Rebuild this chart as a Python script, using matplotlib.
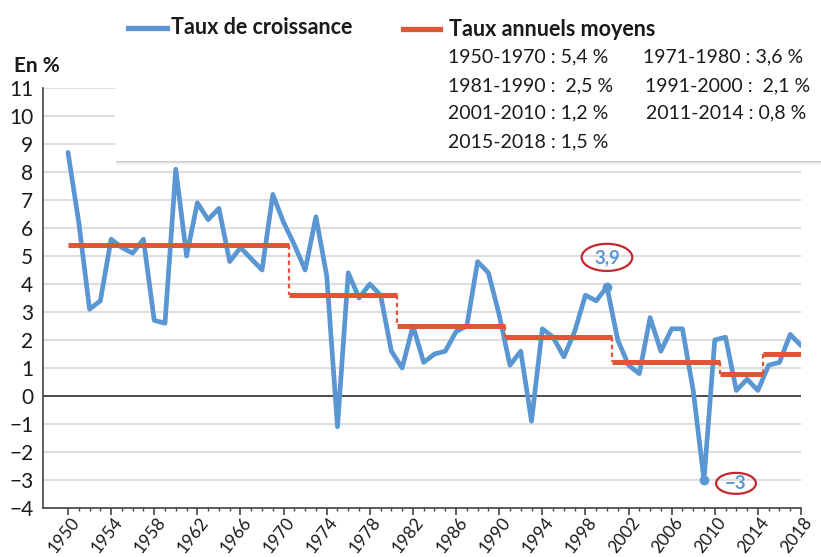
import matplotlib
matplotlib.use('Agg')
import matplotlib.pyplot as plt
from matplotlib.patches import Ellipse, Rectangle
from matplotlib.lines import Line2D
from matplotlib.transforms import ScaledTranslation

# ---------------- data ----------------
years = list(range(1950, 2019))
growth = [8.7, 6.2, 3.1, 3.4, 5.6, 5.3, 5.1, 5.6, 2.7, 2.6,
          8.1, 5.0, 6.9, 6.3, 6.7, 4.8, 5.3, 4.9, 4.5, 7.2,
          6.2, 5.4, 4.5, 6.4, 4.3, -1.1, 4.4, 3.5, 4.0, 3.6,
          1.6, 1.0, 2.5, 1.2, 1.5, 1.6, 2.3, 2.5, 4.8, 4.4,
          2.9, 1.1, 1.6, -0.9, 2.4, 2.1, 1.4, 2.3, 3.6, 3.4,
          3.9, 2.0, 1.1, 0.8, 2.8, 1.6, 2.4, 2.4, 0.2, -3.0,
          2.0, 2.1, 0.2, 0.6, 0.2, 1.1, 1.2, 2.2, 1.8]

avg_starts = [1950, 1971, 1981, 1991, 2001, 2011, 2015]
avg_ends = [1970, 1980, 1990, 2000, 2010, 2014, 2018]
avg_values = [5.4, 3.6, 2.5, 2.1, 1.2, 0.8, 1.5]

period_labels = ["1950-1970 : 5,4 %", "1971-1980 : 3,6 %",
                 "1981-1990 :  2,5 %", "1991-2000 :  2,1 %",
                 "2001-2010 : 1,2 %", "2011-2014 : 0,8 %",
                 "2015-2018 : 1,5 %"]

highlight_years = [2000, 2009]
highlight_labels = ["3,9", "\u22123"]

xtick_labels = [str(y) for y in range(1950, 2019, 4)]
ytick_values = list(range(-4, 12))

# ---------------- style ----------------
BLUE = '#5a96d2'
RED = '#df5537'
DARKRED = '#c3272f'
FONT = ['Lato', 'DejaVu Sans']
plt.rcParams['font.family'] = FONT

W, H = 821, 557
fig = plt.figure(figsize=(W / 100, H / 100), dpi=100)
fig.patch.set_facecolor('white')


def fx(px):
    return px / W


def fy(py):
    return 1 - py / H


ax = fig.add_axes([fx(43), fy(508), fx(801) - fx(43), fy(88) - fy(508)])
ax.set_xlim(1950 - 25 / 10.78, 2018)
ax.set_ylim(-4, 11)

# grid
for v in ytick_values:
    if v == 0:
        ax.axhline(v, color='#1a1a1a', lw=1.1, zorder=2)
    else:
        ax.axhline(v, color='#dedede', lw=1.5, zorder=1)

# growth line
ax.plot(years, growth, color=BLUE, lw=3.4, solid_joinstyle='round',
        solid_capstyle='round', zorder=3)

# averages
n = len(avg_values)
for i in range(n):
    x0 = max(avg_starts[i] - 0.5, years[0])
    x1 = min(avg_ends[i] + 0.5, years[-1])
    ax.plot([x0, x1], [avg_values[i], avg_values[i]], color=RED, lw=3.6,
            solid_capstyle='butt', zorder=4)
    if i > 0:
        xb = avg_starts[i] - 0.5
        ax.plot([xb, xb], [avg_values[i - 1], avg_values[i]], color=RED,
                lw=1.6, ls=(0, (2, 1.5)), zorder=4)

# highlights
for yr, lab in zip(highlight_years, highlight_labels):
    val = growth[years.index(yr)]
    ax.plot([yr], [val], 'o', color=BLUE, ms=6, zorder=5)
    if val > 0:
        cx, cy, w, h = yr, val + 1.05, 4.7, 0.97
    else:
        cx, cy, w, h = yr + 2.97, val - 0.12, 3.7, 0.75
    ax.add_patch(Ellipse((cx, cy), w, h, fill=False, ec=DARKRED, lw=1.6,
                         zorder=6, clip_on=False))
    ax.text(cx, cy, lab, color=BLUE, fontsize=13.5, fontweight='bold',
            ha='center', va='center', zorder=7)

# axes styling
for s in ['top', 'right']:
    ax.spines[s].set_visible(False)
for s in ['left', 'bottom']:
    ax.spines[s].set_color('#444444')
    ax.spines[s].set_linewidth(1.2)
ax.set_yticks(ytick_values)
ax.set_yticklabels([str(v).replace('-', '\u2212') for v in ytick_values],
                   fontsize=15, color='#1a1a1a')
ax.tick_params(axis='y', length=0, pad=7)
ax.set_xticks(range(1950, 2019, 4))
ax.set_xticks(years, minor=True)
ax.set_xticklabels(xtick_labels, rotation=52, ha='right', va='center',
                   rotation_mode='anchor', fontsize=12.5, color='#1a1a1a')
ax.tick_params(axis='x', which='major', length=5, width=1.2, color='#444444',
               direction='out', pad=3)
ax.tick_params(axis='x', which='minor', length=2.5, width=1.0,
               color='#444444', direction='out')
offset = ScaledTranslation(8 / 100, 0, fig.dpi_scale_trans)
for lbl in ax.get_xticklabels():
    lbl.set_transform(lbl.get_transform() + offset)

# "En %"
fig.text(fx(14), fy(66), 'En %', fontsize=15, fontweight='bold',
         ha='left', va='center', color='#1a1a1a')

# legend box with shadow
for off, a in [(4, 0.05), (3, 0.08), (2, 0.12), (1, 0.18)]:
    fig.patches.append(Rectangle((fx(116), fy(161 + off)), fx(821) - fx(116),
                                 fy(0) - fy(161 + off), transform=fig.transFigure,
                                 facecolor='#808080', alpha=a, edgecolor='none',
                                 zorder=8))
fig.patches.append(Rectangle((fx(115), fy(161)), fx(821) - fx(115),
                             fy(0) - fy(161), transform=fig.transFigure,
                             facecolor='white', edgecolor='none', zorder=9))

fig.lines.append(Line2D([fx(128), fx(167)], [fy(28), fy(28)], color=BLUE,
                        lw=3.8, transform=fig.transFigure, zorder=10))
fig.text(fx(171), fy(28), 'Taux de croissance', fontsize=15.5,
         fontweight='bold', ha='left', va='center', color='#1a1a1a', zorder=10)
fig.lines.append(Line2D([fx(403), fx(440)], [fy(29), fy(29)], color=RED,
                        lw=3.8, transform=fig.transFigure, zorder=10))
fig.text(fx(449), fy(29), 'Taux annuels moyens', fontsize=15.5,
         fontweight='bold', ha='left', va='center', color='#1a1a1a', zorder=10)

col_x = [448, 643, 448, 645, 448, 646, 448]
row_y = [57, 57, 86, 86, 113, 113, 142]
for lab, x, y in zip(period_labels, col_x, row_y):
    fig.text(fx(x), fy(y), lab, fontsize=14, ha='left', va='center',
             color='#1a1a1a', zorder=10)

fig.savefig('out.png', dpi=100, facecolor='white')
